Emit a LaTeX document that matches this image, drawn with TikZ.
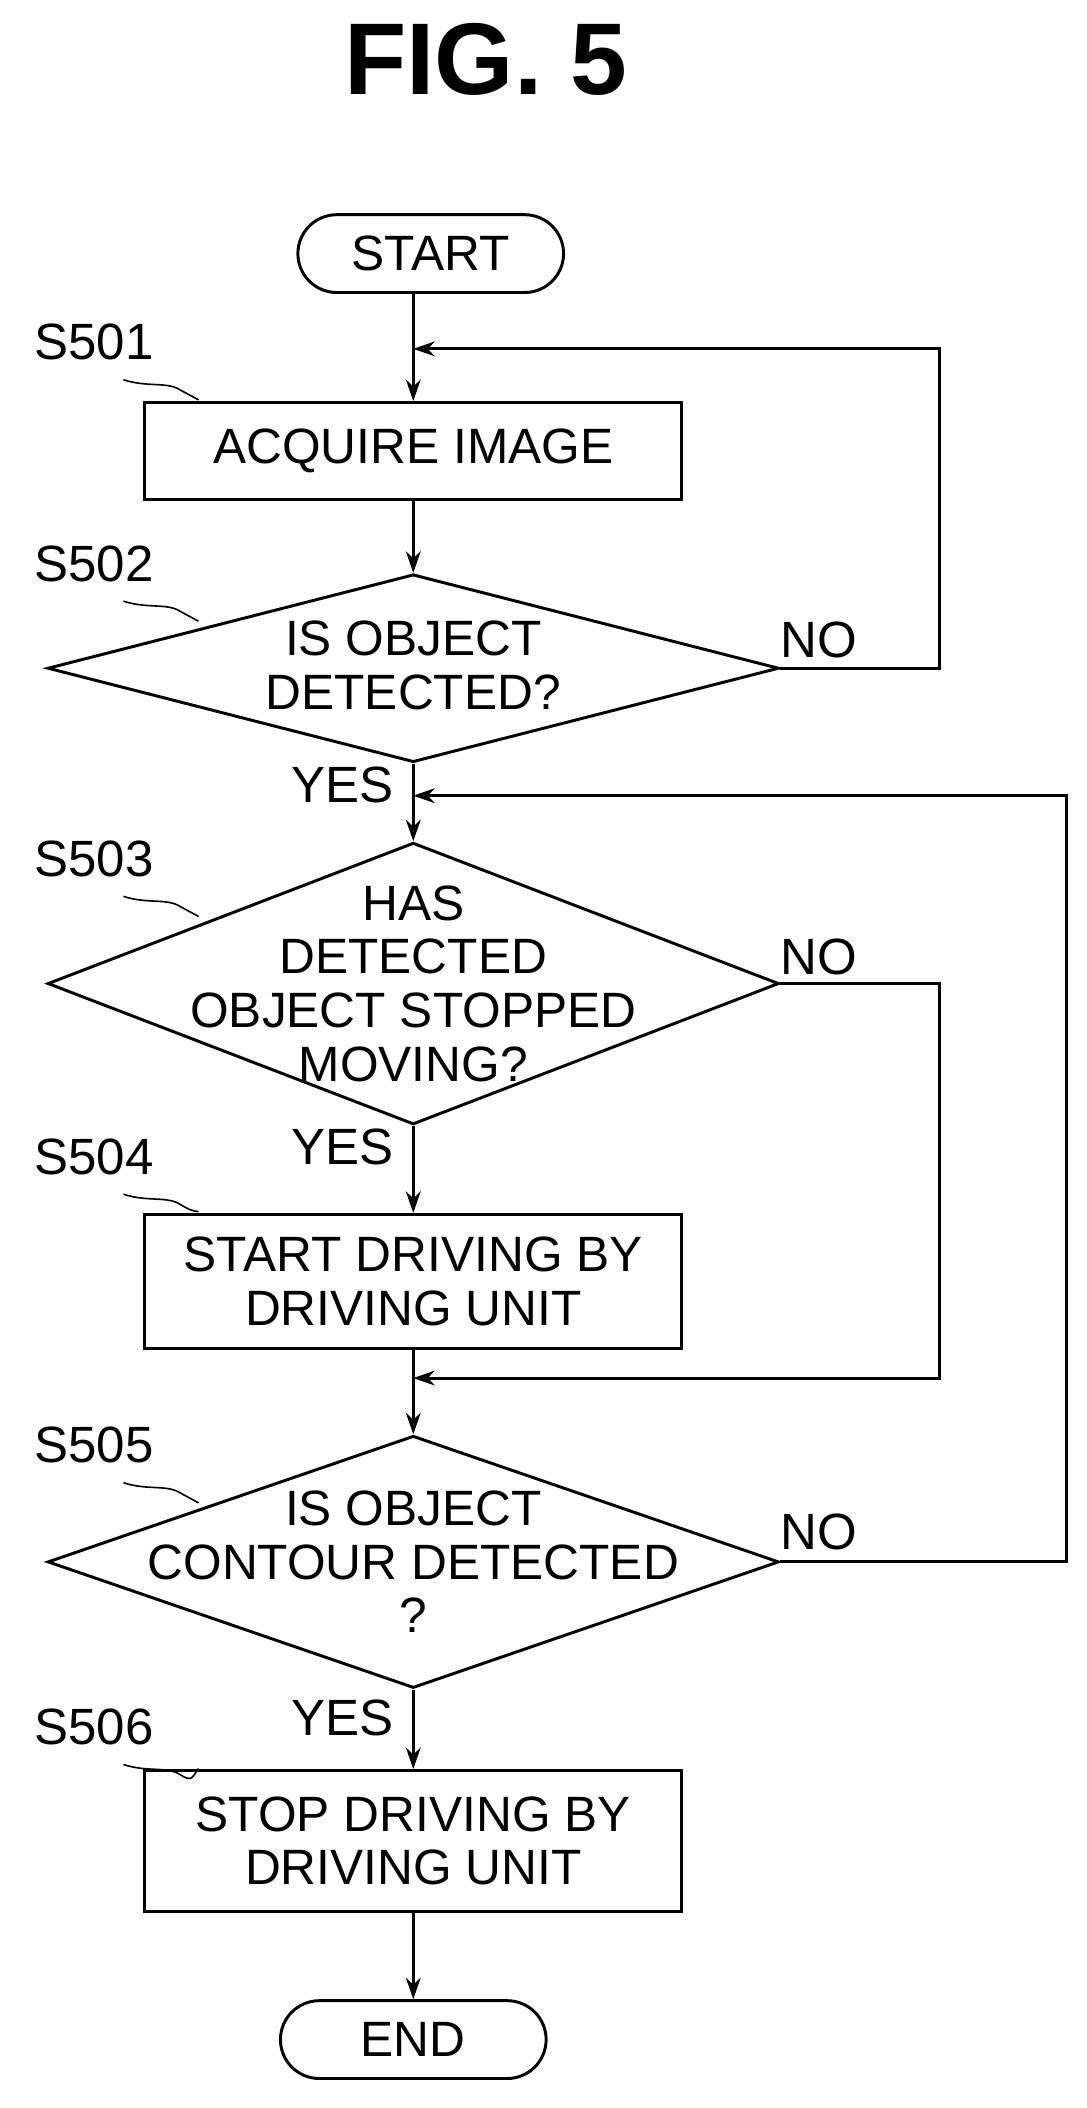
\documentclass[tikz,border=0pt]{standalone}
\usepackage{fontspec}
\setmainfont{Liberation Sans}
\usetikzlibrary{shapes.geometric,arrows.meta}
\begin{document}
\begin{tikzpicture}[x=1pt,y=-1pt,
  line width=2.2pt,
  txt/.style={font=\fontsize{37}{40}\selectfont, align=center},
  box/.style={draw, minimum width=400pt, txt, inner sep=0pt},
  term/.style={draw, rounded corners=29pt, minimum width=198pt, minimum height=58pt, txt, inner sep=0pt},
  dia/.style={draw, diamond, minimum width=545pt, inner sep=0pt},
  lbl/.style={font=\fontsize{38}{40}\selectfont, inner sep=0pt},
  arr/.style={-{Stealth[length=16pt,width=11pt,open]}},
  sq/.style={line width=1.2pt}]
\useasboundingbox (0,0) rectangle (810,1571);
\node[font=\fontsize{76}{80}\selectfont\bfseries] (title) at (362,44) {FIG. 5};
\node[term] (start) at (321,189) {START};
\node[box, minimum height=72pt] (s1) at (308,336) {ACQUIRE IMAGE};
\node[dia, aspect=3.893, minimum height=140pt] (d2) at (308,498) {};
\node[txt] (t2) at (308,496) {IS OBJECT\\DETECTED?};
\node[dia, aspect=2.595, minimum height=210pt] (d3) at (308,733) {};
\node[txt, font=\fontsize{37}{40}\selectfont] (t3) at (308,733) {HAS\\DETECTED\\OBJECT STOPPED\\MOVING?};
\node[box, minimum height=100pt] (s4) at (308,955) {START DRIVING BY\\DRIVING UNIT};
\node[dia, aspect=2.899, minimum height=188pt] (d5) at (308,1164) {};
\node[txt] (t5) at (308,1164) {IS OBJECT\\CONTOUR DETECTED\\?};
\node[box, minimum height=105pt] (s6) at (308,1372) {STOP DRIVING BY\\DRIVING UNIT};
\node[term] (end) at (308,1520) {END};
% labels
\node[lbl] (l1) at (70,255) {S501};
\node[lbl] (l2) at (70,420) {S502};
\node[lbl] (l3) at (70,640) {S503};
\node[lbl] (l4) at (70,862) {S504};
\node[lbl] (l5) at (70,1077) {S505};
\node[lbl] (l6) at (70,1287) {S506};
\foreach \y/\ty in {300/255, 465/420, 685/640, 905/862, 1122/1077, 1320/1287}{
  \draw[sq] (92,\ty+28) .. controls (110,\ty+34) and (125,\ty+29) .. (135,\ty+36) .. controls (142,\ty+40) .. (148,\y-2);
}
\node[lbl] (no2) at (610,477) {NO};
\node[lbl] (no3) at (610,713) {NO};
\node[lbl] (no5) at (610,1142) {NO};
\node[lbl] (y2) at (255,585) {YES};
\node[lbl] (y3) at (255,855) {YES};
\node[lbl] (y5) at (255,1280) {YES};
% coordinates
\coordinate (j1) at (308,260);
\coordinate (j2) at (308,593);
\coordinate (j3) at (308,1027);
% connectors
\draw (start.south -| j1) -- (j1);
\draw[arr] (j1) -- (s1.north);
\draw[arr] (s1) -- (d2.north);
\draw (d2.south) -- (j2);
\draw[arr] (j2) -- (d3.north);
\draw[arr] (d3.south) -- (s4.north);
\draw (s4) -- (j3);
\draw[arr] (j3) -- (d5.north);
\draw[arr] (d5.south) -- (s6.north);
\draw[arr] (s6) -- (end.north);
\draw[arr] (d2.east) -- (700,498) -- (700,260) -- (j1);
\draw[arr] (d3.east) -- (700,733) -- (700,1027) -- (j3);
\draw[arr] (d5.east) -- (795,1164) -- (795,593) -- (j2);
\end{tikzpicture}
\end{document}
